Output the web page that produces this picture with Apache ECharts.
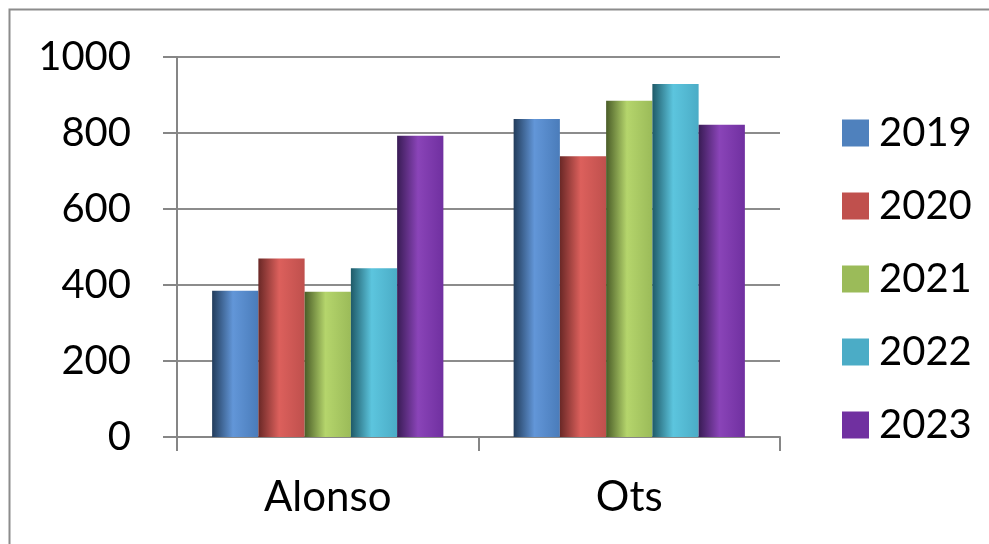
<!DOCTYPE html>
<html>
<head>
<meta charset="utf-8">
<script src="https://cdn.jsdelivr.net/npm/echarts@6/dist/echarts.min.js"></script>
<style>
  html, body { margin: 0; padding: 0; background: #fff; }
  #chart { width: 989px; height: 544px; }
</style>
</head>
<body>
<div id="chart"></div>
<script>
const categories = ['Alonso', 'Ots'];
const seriesNames = ['2019', '2020', '2021', '2022', '2023'];
const values2019 = [385, 837];
const values2020 = [470, 739];
const values2021 = [382, 885];
const values2022 = [444, 929];
const values2023 = [793, 822];
const yTicks = [0, 200, 400, 600, 800, 1000];

const seriesValues = [values2019, values2020, values2021, values2022, values2023];
const baseColors = ['#4f81bd', '#c0504d', '#9bbb59', '#4bacc6', '#7030a0'];
const darkColors = ['#223c5b', '#6a2826', '#4a5d28', '#1f5a68', '#391c55'];
const lightColors = ['#6296d8', '#dc605c', '#b5d56c', '#5cc5de', '#8a44b8'];
const rightColors = ['#4a7cba', '#bf504d', '#9bbb59', '#4bacc6', '#7030a0'];

const FONT = 'Lato';

const chart = echarts.init(document.getElementById('chart'), null, { renderer: 'canvas' });

const series = seriesNames.map((name, i) => ({
  name: name,
  type: 'bar',
  data: seriesValues[i],
  barGap: '0%',
  barCategoryGap: '23.3%',
  itemStyle: {
    color: {
      type: 'linear', x: 0, y: 0, x2: 1, y2: 0,
      colorStops: [
        { offset: 0, color: darkColors[i] },
        { offset: 0.45, color: lightColors[i] },
        { offset: 1, color: rightColors[i] }
      ]
    }
  },
  emphasis: { disabled: true }
}));

chart.setOption({
  animation: false,
  backgroundColor: '#ffffff',
  color: baseColors,
  graphic: [{
    type: 'rect',
    shape: { x: 9.5, y: 9.5, width: 1100, height: 700 },
    style: { fill: 'none', stroke: '#8c8c8c', lineWidth: 2 },
    silent: true,
    z: -10
  }],
  grid: { left: 177, right: 209, top: 57, bottom: 107, containLabel: false },
  legend: {
    orient: 'vertical',
    left: 837,
    top: 108,
    itemWidth: 27,
    itemHeight: 27,
    itemGap: 33,
    icon: 'rect',
    data: seriesNames.map((n, i) => ({ name: n, itemStyle: { color: baseColors[i] } })),
    textStyle: { fontFamily: FONT, fontSize: 40, color: '#000', lineHeight: 27, padding: [0, 0, 0, 5] },
    selectedMode: false
  },
  xAxis: {
    type: 'category',
    data: categories,
    boundaryGap: true,
    axisLine: { show: true, lineStyle: { color: '#868686', width: 2 } },
    axisTick: { show: true, length: 14, alignWithLabel: false, lineStyle: { color: '#868686', width: 2 } },
    axisLabel: { fontFamily: FONT, fontSize: 42, color: '#000', margin: 39 },
    splitLine: { show: false }
  },
  yAxis: {
    type: 'value',
    min: 0,
    max: 1000,
    interval: 200,
    axisLine: { show: true, lineStyle: { color: '#868686', width: 2 } },
    axisTick: { show: true, length: 14, lineStyle: { color: '#868686', width: 2 } },
    axisLabel: {
      fontFamily: FONT, fontSize: 40, color: '#000', margin: 46,
      formatter: v => yTicks.includes(v) ? String(v) : ''
    },
    splitLine: { show: true, lineStyle: { color: '#8c8c8c', width: 2 } }
  },
  series: series
});
</script>
</body>
</html>
